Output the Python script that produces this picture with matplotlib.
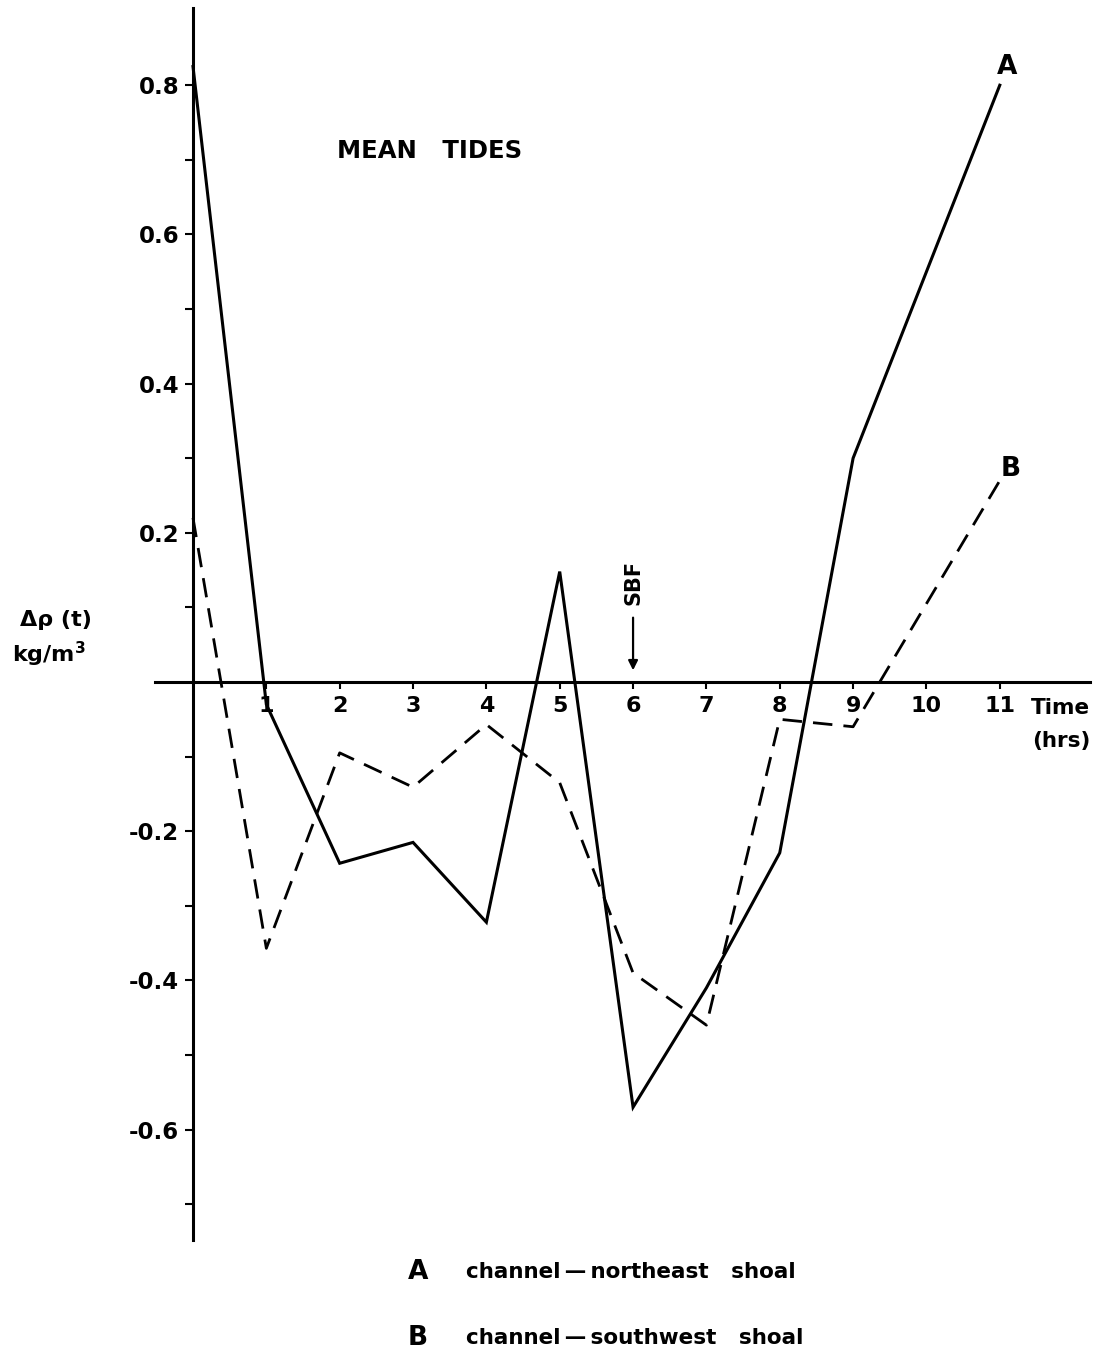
import matplotlib
matplotlib.use("Agg")
import matplotlib.pyplot as plt
from matplotlib.ticker import FixedLocator

# Density difference over a mean tidal cycle
hours = [0, 1, 2, 3, 4, 5, 6, 7, 8, 9, 11]
series_a = [0.825, -0.03, -0.243, -0.215, -0.322, 0.148, -0.57, -0.41, -0.229, 0.30, 0.80]
series_b = [0.22, -0.357, -0.095, -0.141, -0.057, -0.135, -0.39, -0.46, -0.05, -0.06, 0.27]

x_ticks = [1, 2, 3, 4, 5, 6, 7, 8, 9, 10, 11]
y_ticks = [-0.6, -0.4, -0.2, 0.2, 0.4, 0.6, 0.8]
y_tick_labels = ["-0.6", "-0.4", "-0.2", "0.2", "0.4", "0.6", "0.8"]
y_minor = [-0.7, -0.5, -0.3, -0.1, 0.1, 0.3, 0.5, 0.7]

plt.rcParams["font.family"] = ["DejaVu Sans"]
plt.rcParams["font.weight"] = "bold"

W, H = 1098, 1362
fig = plt.figure(figsize=(W / 100, H / 100), dpi=100)
x0, x1, ytop, ybot = 155, 1090, 8, 1240
ax = fig.add_axes([x0 / W, 1 - ybot / H, (x1 - x0) / W, (ybot - ytop) / H])

ax.set_xlim(-0.518, 12.23)
ax.set_ylim(-0.748, 0.9035)

for side in ("top", "right"):
    ax.spines[side].set_visible(False)
ax.spines["left"].set_position(("data", 0))
ax.spines["bottom"].set_position(("data", 0))
ax.spines["left"].set_linewidth(2.2)
ax.spines["bottom"].set_linewidth(2.2)

ax.xaxis.set_major_locator(FixedLocator(x_ticks))
ax.set_xticklabels([str(v) for v in x_ticks], fontsize=16, fontweight="bold")
ax.tick_params(axis="x", direction="out", length=5, width=1.5, pad=5)

ax.yaxis.set_major_locator(FixedLocator(y_ticks))
ax.set_yticklabels(y_tick_labels, fontsize=16.5, fontweight="bold")
ax.yaxis.set_minor_locator(FixedLocator(y_minor))
ax.tick_params(axis="y", which="both", direction="out", length=6, width=1.5, pad=4)

ax.plot(hours, series_a, color="black", lw=2.2, solid_joinstyle="miter")
ax.plot(hours, series_b, color="black", lw=2.0, dashes=(7, 4))

ax.text(11.1, 0.825, "A", fontsize=19, fontweight="bold", ha="center", va="center")
ax.text(11.15, 0.285, "B", fontsize=19, fontweight="bold", ha="center", va="center")

ax.text(1.96, 0.712, "MEAN   TIDES", fontsize=17.5, fontweight="bold", ha="left", va="center")

# Sea-breeze front marker
ax.text(6.0, 0.133, "SBF", fontsize=15, fontweight="bold", rotation=90, ha="center", va="center")
ax.annotate("", xy=(6.0, 0.012), xytext=(6.0, 0.09),
            arrowprops=dict(arrowstyle="-|>", color="black", lw=1.6, mutation_scale=14))

fig.text(1090 / W, 1 - 708 / H, "Time", fontsize=15.5, fontweight="bold", ha="right", va="center")
fig.text(1090 / W, 1 - 741 / H, "(hrs)", fontsize=15.5, fontweight="bold", ha="right", va="center")

fig.text(20 / W, 1 - 620 / H, "Δρ (t)", fontsize=16, fontweight="bold", ha="left", va="center")
fig.text(12 / W, 1 - 654 / H, "kg/m$^{\\mathbf{3}}$", fontsize=16, fontweight="bold", ha="left", va="center")

fig.text(418 / W, 1 - 1272 / H, "A", fontsize=19, fontweight="bold", ha="center", va="center")
fig.text(466 / W, 1 - 1272 / H, "channel\u2009\u2014\u2009northeast   shoal", fontsize=15.5,
         fontweight="bold", ha="left", va="center")
fig.text(418 / W, 1 - 1338 / H, "B", fontsize=19, fontweight="bold", ha="center", va="center")
fig.text(466 / W, 1 - 1338 / H, "channel\u2009\u2014\u2009southwest   shoal", fontsize=15.5,
         fontweight="bold", ha="left", va="center")

fig.savefig("out.png", dpi=100, facecolor="white")
